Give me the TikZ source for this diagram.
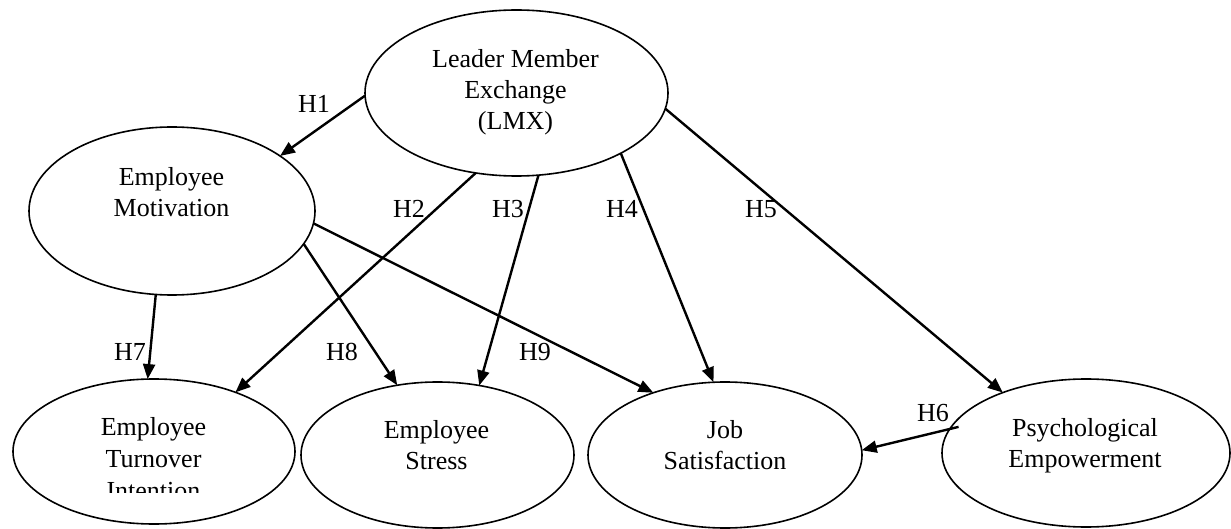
\documentclass[tikz,border=0pt]{standalone}
\usepackage{fontspec}
\setmainfont{Liberation Serif}
\usetikzlibrary{shapes.geometric,arrows.meta}
\tikzset{
  ell/.style={draw, ellipse, line width=1.6pt, inner sep=0pt, outer sep=0pt},
  lbl/.style={align=center, anchor=base, inner sep=0pt, font=\fontsize{26}{31}\selectfont},
  hyp/.style={anchor=base, inner sep=0pt, font=\fontsize{26}{31}\selectfont},
  arr/.style={line width=2.4pt, -{Triangle[length=15pt,width=12pt]}}
}
\begin{document}
\begin{tikzpicture}[x=1pt,y=-1pt]
\fill[white] (0,0) rectangle (1231,529);
\useasboundingbox (0,0) rectangle (1231,529);
% ellipses
\node[ell, minimum width=303pt, minimum height=166pt] (lmx) at (516.5,93) {};
\node[ell, minimum width=286pt, minimum height=168pt] (mot) at (172,211) {};
\node[ell, minimum width=282pt, minimum height=145pt] (tur) at (154,451.5) {};
\node[ell, minimum width=273pt, minimum height=146pt] (str) at (437.5,455) {};
\node[ell, minimum width=274pt, minimum height=146pt] (job) at (725,455) {};
\node[ell, minimum width=288pt, minimum height=148pt] (psy) at (1086,453) {};
% texts (anchor base = baseline of the last line)
\node[lbl] (lmxt) at (515.5,130) {Leader Member\\Exchange\\(LMX)};
\node[lbl] (mott) at (171.5,217) {Employee\\Motivation};
\begin{scope}
\clip (0,380) rectangle (300,492);
\node[lbl, font=\fontsize{26}{32}\selectfont] (turt) at (153.5,499) {Employee\\Turnover\\Intention};
\end{scope}
\node[lbl] (strt) at (436.5,469) {Employee\\Stress};
\node[lbl] (jobt) at (725,469) {Job\\Satisfaction};
\node[lbl] (psyt) at (1085,467) {Psychological\\Empowerment};
% connectors
\draw[arr] (lmx.181) -- (mot.27);
\draw[arr] (lmx.243.7) -- (tur.36.5);
\draw[arr] (lmx.285.8) -- (str.59.5);
\draw[arr] (lmx.330.8) -- (job.99.3);
\draw[arr] (lmx.354.8) -- (psy.144);
\draw[arr, shorten <=-9pt] (psy.170.3) -- (job.2);
\draw[arr] (mot.259.25) -- (tur.95);
\draw[arr] (mot.346.6) -- (str.120.6);
\draw[arr] (mot.355.3) -- (job.139.1);
% hypothesis labels
\node[hyp] (h1) at (314,113) {H1};
\node[hyp] (h2) at (409,218) {H2};
\node[hyp] (h3) at (508,218) {H3};
\node[hyp] (h4) at (622,218) {H4};
\node[hyp] (h5) at (761,218) {H5};
\node[hyp] (h6) at (933,421) {H6};
\node[hyp] (h7) at (130,360) {H7};
\node[hyp] (h8) at (342,360) {H8};
\node[hyp] (h9) at (535,360) {H9};
\end{tikzpicture}
\end{document}
